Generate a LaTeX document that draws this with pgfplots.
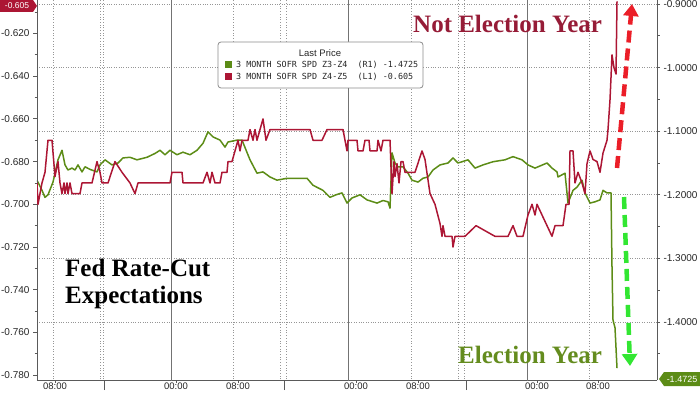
\documentclass[border=0pt]{standalone}
\usepackage{pgfplots}
\pgfplotsset{compat=1.18}
\usepackage{fontspec}
\setmainfont{Liberation Serif}
\newfontfamily\sansf{Liberation Sans}
\newfontfamily\monof{DejaVu Sans Mono}
\usetikzlibrary{arrows.meta}
\definecolor{redline}{RGB}{172,22,52}
\definecolor{greenline}{RGB}{92,140,22}
\definecolor{redtext}{RGB}{150,28,55}
\definecolor{greentext}{RGB}{100,140,30}
\definecolor{redarrow}{RGB}{235,30,40}
\definecolor{greenarrow}{RGB}{50,230,50}
\definecolor{gridc}{RGB}{150,150,150}
\definecolor{axc}{RGB}{90,90,90}

\pgfplotstableread{
x y
37 -1.177
42 -1.193
45 -1.204
48 -1.200
53 -1.180
58 -1.145
62 -1.130
65 -1.153
68 -1.161
72 -1.158
75 -1.161
78 -1.153
82 -1.164
85 -1.156
90 -1.160
97 -1.164
100 -1.153
105 -1.145
112 -1.153
118 -1.150
123 -1.142
130 -1.141
137 -1.145
147 -1.141
155 -1.135
160 -1.130
165 -1.137
170 -1.130
177 -1.137
183 -1.133
190 -1.137
197 -1.130
203 -1.119
208 -1.101
213 -1.109
220 -1.114
225 -1.125
228 -1.117
237 -1.114
242 -1.114
250 -1.145
257 -1.166
263 -1.164
270 -1.172
277 -1.177
287 -1.174
297 -1.174
307 -1.174
313 -1.185
323 -1.193
330 -1.204
336 -1.200
342 -1.197
347 -1.213
352 -1.205
360 -1.200
367 -1.208
377 -1.213
383 -1.209
388 -1.211
390 -1.221
392 -1.134
395 -1.150
398 -1.156
403 -1.156
408 -1.166
412 -1.177
418 -1.180
423 -1.174
428 -1.172
433 -1.161
440 -1.153
448 -1.150
453 -1.142
458 -1.150
468 -1.145
475 -1.158
483 -1.153
493 -1.148
505 -1.145
513 -1.140
522 -1.145
528 -1.153
535 -1.158
547 -1.150
552 -1.158
557 -1.164
558 -1.172
565 -1.166
568 -1.213
573 -1.193
577 -1.188
582 -1.177
585 -1.197
590 -1.213
595 -1.211
600 -1.208
603 -1.193
607 -1.197
611 -1.197
612 -1.314
613 -1.397
615 -1.409
617 -1.4725
}\greendata

\pgfplotstableread{
x y
37 -0.690
38 -0.700
40 -0.695
42 -0.690
45 -0.685
48 -0.670
52 -0.670
55 -0.687
58 -0.680
60 -0.690
62 -0.695
64 -0.690
65 -0.695
67 -0.690
68 -0.695
70 -0.690
72 -0.695
80 -0.695
82 -0.690
92 -0.690
97 -0.680
100 -0.685
102 -0.690
108 -0.690
115 -0.680
122 -0.685
130 -0.690
135 -0.695
138 -0.690
170 -0.690
172 -0.685
182 -0.685
183 -0.690
203 -0.690
207 -0.685
210 -0.690
212 -0.685
215 -0.690
220 -0.690
222 -0.685
227 -0.685
228 -0.680
232 -0.680
235 -0.675
238 -0.670
240 -0.675
242 -0.670
248 -0.670
250 -0.665
253 -0.670
255 -0.665
257 -0.670
260 -0.665
263 -0.660
266 -0.670
270 -0.665
310 -0.665
313 -0.670
322 -0.670
327 -0.665
343 -0.665
347 -0.675
348 -0.670
357 -0.670
358 -0.675
363 -0.675
365 -0.670
369 -0.670
370 -0.675
377 -0.675
378 -0.670
381 -0.675
383 -0.670
390 -0.670
392 -0.695
394 -0.680
395 -0.687
397 -0.681
399 -0.690
401 -0.680
403 -0.680
405 -0.685
415 -0.685
422 -0.675
425 -0.679
430 -0.695
435 -0.700
440 -0.709
442 -0.715
443 -0.710
445 -0.715
452 -0.715
453 -0.720
455 -0.715
465 -0.715
476 -0.710
495 -0.715
508 -0.715
513 -0.710
517 -0.715
523 -0.715
528 -0.705
532 -0.700
535 -0.705
537 -0.700
542 -0.705
547 -0.710
552 -0.715
555 -0.710
563 -0.710
566 -0.700
569 -0.700
570 -0.675
573 -0.675
575 -0.690
578 -0.685
582 -0.690
585 -0.695
587 -0.681
590 -0.675
593 -0.679
597 -0.680
600 -0.685
603 -0.676
607 -0.670
608 -0.665
610 -0.651
612 -0.630
614 -0.636
616 -0.639
617 -0.605
}\reddata

\begin{document}
\begin{tikzpicture}
\pgfplotsset{
  common/.style={
    at={(0pt,0pt)}, anchor=south west,
    scale only axis, width=620pt, height=380pt,
    xmin=37, xmax=657,
    tick align=outside,
    major tick length=4pt, minor tick length=2.5pt,
    tick style={axc, line width=0.9pt},
    axis line style={axc, line width=0.8pt},
    tick label style={font=\sansf\fontsize{10}{12}\selectfont, text=black!85},
  }
}
% Right axis (green)
\begin{axis}[common,
  ymin=-1.49119, ymax=-0.89371,
  axis x line*=bottom, axis y line*=right,
  ytick={-1.4,-1.3,-1.2,-1.1,-1.0,-0.9},
  yticklabels={-1.4000,-1.3000,-1.2000,-1.1000,-1.0000,-0.9000},
  minor ytick={-1.45,-1.35,-1.25,-1.15,-1.05,-0.95},
  ymajorgrids, grid style={gridc, dotted, line width=0.7pt},
  xtick={55,176,238,356,418,537,598},
  xticklabels={08:00,00:00,08:00,00:00,08:00,00:00,08:00},
  xticklabel style={yshift=4pt, font=\sansf\fontsize{9.5}{11}\selectfont},
  major tick length=3pt,
  extra x ticks={104,284,466},
  extra x tick labels={},
  extra x tick style={major tick length=10pt, tick style={axc, line width=0.6pt}},
]
\pgfplotsinvokeforeach{53,100,103,233,280,286,411,458,464,589}{
  \draw[gridc, dotted, line width=0.7pt] (axis cs:#1,-1.6) -- (axis cs:#1,-0.8);
}
\pgfplotsinvokeforeach{171,348,527}{
  \draw[black!55, line width=0.6pt] (axis cs:#1,-1.6) -- (axis cs:#1,-0.8);
}
\addplot[greenline, line width=1.5pt, line join=round] table[x=x,y=y] {\greendata};
\end{axis}
% Left axis (red)
\begin{axis}[common,
  ymin=-0.78229, ymax=-0.60431,
  axis y line*=left, hide x axis,
  ytick={-0.78,-0.76,-0.74,-0.72,-0.70,-0.68,-0.66,-0.64,-0.62},
  yticklabels={-0.780,-0.760,-0.740,-0.720,-0.700,-0.680,-0.660,-0.640,-0.620},
  minor ytick={-0.77,-0.75,-0.73,-0.71,-0.69,-0.67,-0.65,-0.63,-0.61},
]
\addplot[redline, line width=1.5pt, line join=round] table[x=x,y=y] {\reddata};
\end{axis}

\begin{scope}[x=1pt,y=-1pt,shift={(-37pt,380pt)}]
  % legend
  \draw[rounded corners=3pt, draw=black!45, fill=white, line width=0.8pt] (218,42) rectangle (423,88);
  \node[font=\sansf\fontsize{9.5}{11}\selectfont, text=black!85] at (320,53) {Last Price};
  \fill[greenline] (225,61) rectangle (232,68);
  \fill[redline] (225,73) rectangle (232,80);
  \node[anchor=west, inner sep=0pt, font=\monof\fontsize{8.4}{10}\selectfont, text=black!85] at (236,65) {3 MONTH SOFR SPD Z3-Z4~~(R1) -1.4725};
  \node[anchor=west, inner sep=0pt, font=\monof\fontsize{8.4}{10}\selectfont, text=black!85] at (236,77) {3 MONTH SOFR SPD Z4-Z5~~(L1) -0.605};
  % annotations
  \node[anchor=base west, inner sep=0pt, text=redtext, font=\bfseries\fontsize{25}{30}\selectfont] at (413,33) {Not Election Year};
  \node[anchor=base west, inner sep=0pt, text=greentext, font=\bfseries\fontsize{25}{30}\selectfont] at (458,363) {Election Year};
  \node[anchor=base west, inner sep=0pt, text=black, font=\bfseries\fontsize{25}{30}\selectfont] at (65,276) {Fed Rate-Cut};
  \node[anchor=base west, inner sep=0pt, text=black, font=\bfseries\fontsize{25}{30}\selectfont] at (65,303) {Expectations};
  % arrows
  \draw[redarrow, line width=4.5pt, dash pattern=on 12pt off 6pt, -{Triangle[width=15pt,length=12pt]}] (617,168) -- (632,4);
  \draw[greenarrow, line width=4.5pt, dash pattern=on 12pt off 6pt, -{Triangle[width=15pt,length=12pt]}] (624,197) -- (630,366);
  % value tags
  \fill[greenline] (659,379) -- (664,372) -- (700,372) -- (700,386) -- (664,386) -- cycle;
  \node[text=white, font=\sansf\fontsize{9}{10}\selectfont] at (682,379) {-1.4725};
  \fill[redline] (0,0) -- (33,0) -- (37,6) -- (33,12) -- (0,12) -- cycle;
  \node[text=white, inner sep=0pt, font=\sansf\fontsize{8.5}{10}\selectfont] at (17,6) {-0.605};
  \pgfresetboundingbox
  \path[use as bounding box] (0,0) rectangle (700,394);
\end{scope}
\end{tikzpicture}
\end{document}
